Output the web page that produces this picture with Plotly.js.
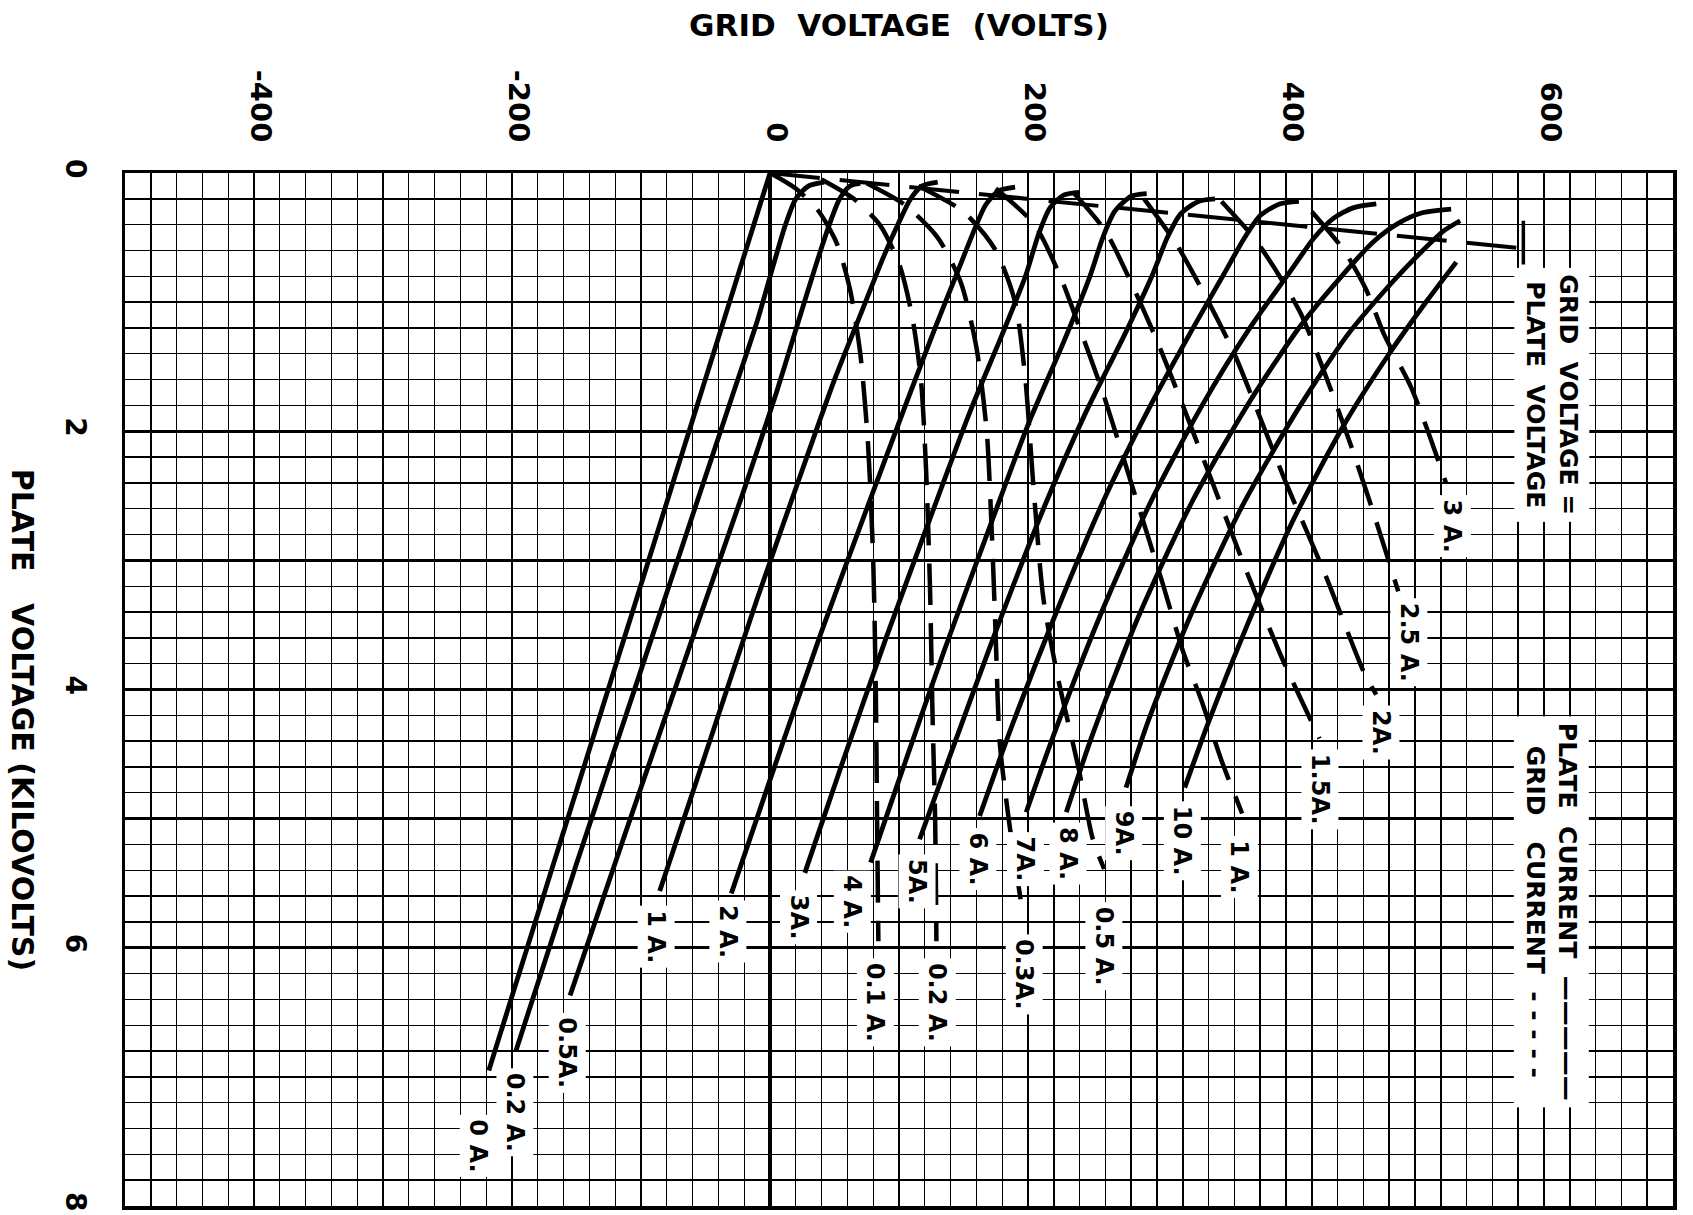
<!DOCTYPE html>
<html><head><meta charset="utf-8">
<script src="https://cdn.plot.ly/plotly-3.0.1.min.js"></script>
<style>html,body{margin:0;padding:0;background:#fff}#chart{width:1693px;height:1215px}</style>
</head><body><div id="chart"></div>
<script>
// ---- axis ticks ----
const xTickVals = [-500,-400,-300,-200,-100,0,100,200,300,400,500,600,700];
const xTickText = ['','-400','','-200','','0','','200','','400','','600',''];
const yTickVals = [0,1,2,3,4,5,6,7,8];
const yTickText = ['0','','2','','4','','6','','8'];

// ---- plate current curves (solid): grid volts (x), plate kilovolts (y) ----
const pc_0A_x   = [-218, 0];
const pc_0A_y   = [6.95, 0];
const pc_02A_x  = [-197,-150,-100,-60,-30,-10,3,12,20,30,42];
const pc_02A_y  = [6.8,5.35,3.85,2.65,1.75,1.15,0.7,0.4,0.2,0.1,0.07];
const pc_05A_x  = [-155,-110,-60,-20,5,22,36,46,54,62,70];
const pc_05A_y  = [6.37,5.05,3.6,2.45,1.7,1.15,0.7,0.4,0.2,0.1,0.08];
const pc_1A_x   = [-85.5,-50,-10,25,50,72,88,100,109,118,130];
const pc_1A_y   = [5.56,4.5,3.3,2.3,1.6,1.05,0.65,0.38,0.2,0.1,0.07];
const pc_2A_x   = [-30,0,40,75,105,128,146,158,167,177,190];
const pc_2A_y   = [5.58,4.7,3.55,2.6,1.8,1.2,0.75,0.45,0.25,0.14,0.11];
const pc_3A_x   = [27,55,90,125,155,180,198,208,217,228,240];
const pc_3A_y   = [5.42,4.6,3.6,2.65,1.85,1.25,0.8,0.48,0.27,0.17,0.15];
const pc_4A_x   = [78,100,135,170,200,228,248,258,267,280,292];
const pc_4A_y   = [5.34,4.7,3.7,2.75,1.95,1.3,0.8,0.5,0.3,0.18,0.16];
const pc_5A_x   = [116,140,175,212,245,275,296,308,318,332,345];
const pc_5A_y   = [5.16,4.5,3.55,2.6,1.85,1.25,0.8,0.5,0.32,0.22,0.2];
const pc_6A_x   = [162.5,185,220,258,295,328,352,368,380,395,410];
const pc_6A_y   = [4.98,4.35,3.45,2.55,1.8,1.2,0.78,0.5,0.33,0.24,0.22];
const pc_7A_x   = [198.6,220,255,295,335,372,402,422,437,452,470];
const pc_7A_y   = [4.95,4.35,3.45,2.55,1.8,1.2,0.78,0.5,0.35,0.27,0.24];
const pc_8A_x   = [229.7,250,285,327,370,410,443,468,487,505,528];
const pc_8A_y   = [4.95,4.35,3.45,2.55,1.8,1.2,0.8,0.53,0.39,0.31,0.28];
const pc_9A_x   = [276,293,325,365,408,448,482,506,522,535];
const pc_9A_y   = [4.76,4.25,3.45,2.6,1.85,1.25,0.85,0.6,0.45,0.37];
const pc_10A_x  = [321.5,340,370,405,445,480,510,532];
const pc_10A_y  = [4.76,4.25,3.5,2.7,1.95,1.4,0.98,0.69];

// ---- grid current curves (dashed) ----
const gc_01A_x = [0,20,38,52,62,70,76,80,82,83,84];
const gc_01A_y = [0,0.12,0.3,0.55,0.9,1.4,2.1,3.0,4.0,5.0,5.95];
const gc_02A_x = [40,65,85,100,110,117,121,124,126,128,129];
const gc_02A_y = [0.05,0.2,0.4,0.7,1.1,1.6,2.3,3.2,4.2,5.0,5.95];
const gc_03A_x = [75,105,130,148,160,168,172,175,178,185,196];
const gc_03A_y = [0.08,0.25,0.5,0.85,1.35,2.0,2.8,3.6,4.4,5.0,5.74];
const gc_05A_x = [115,150,175,190,198,204,212,223,239,250,259];
const gc_05A_y = [0.1,0.3,0.6,1.0,1.6,2.4,3.3,3.9,4.6,5.15,5.39];
const gc_1A_x  = [175,205,225,240,258,280,305,320,335,350,366];
const gc_1A_y  = [0.12,0.4,0.8,1.2,1.7,2.4,3.2,3.7,4.1,4.55,4.96];
const gc_15A_x = [235,260,280,300,320,345,370,397,426];
const gc_15A_y = [0.15,0.45,0.85,1.3,1.8,2.45,3.1,3.76,4.38];
const gc_2A_x  = [290,315,340,360,377,400,430,461,470];
const gc_2A_y  = [0.2,0.55,1.0,1.4,1.82,2.4,3.1,3.88,4.04];
const gc_25A_x = [350,375,395,412,430,450,470,487];
const gc_25A_y = [0.22,0.5,0.8,1.1,1.55,2.1,2.7,3.24];
const gc_3A_x  = [420,445,462,476,497,510,524];
const gc_3A_y  = [0.3,0.6,0.9,1.25,1.66,2.0,2.4];

// ---- grid voltage = plate voltage line ----
const gvpv_x = [0, 590];
const gvpv_y = [0, 0.59];

// ---- curve labels (text, label position) ----
const pcLabels = ['0 A.','0.2 A.','0.5A.','1 A.','2 A.','3A.','4 A.','5A.','6 A.','7A.','8 A.','9A.','10 A.'];
const pcLabelX = [-226,-198,-157,-88,-33,22,64,114,161,198,231,274,320];
const pcLabelY = [7.29,6.93,6.5,5.67,5.63,5.55,5.4,5.27,5.07,5.1,5.03,4.9,4.86];
const gcLabels = ['0.1 A.','0.2 A.','0.3A.','0.5 A.','1 A.','1.5A.','2A.','2.5 A.','3 A.'];
const gcLabelX = [82,130,197,259,364,426,474,495,529];
const gcLabelY = [6.08,6.08,5.89,5.64,5.13,4.46,4.12,3.29,2.49];

const FONT = 'DejaVu Sans';
const solidStyle = {color:'#000', width:4.8, shape:'spline', smoothing:0.7};
const dashStyle  = {color:'#000', width:4.5, shape:'spline', smoothing:0.7, dash:'42px,18px'};

const solids = [
  [pc_0A_x,pc_0A_y],[pc_02A_x,pc_02A_y],[pc_05A_x,pc_05A_y],[pc_1A_x,pc_1A_y],
  [pc_2A_x,pc_2A_y],[pc_3A_x,pc_3A_y],[pc_4A_x,pc_4A_y],[pc_5A_x,pc_5A_y],
  [pc_6A_x,pc_6A_y],[pc_7A_x,pc_7A_y],[pc_8A_x,pc_8A_y],[pc_9A_x,pc_9A_y],[pc_10A_x,pc_10A_y]
];
const dashes = [
  [gc_01A_x,gc_01A_y],[gc_02A_x,gc_02A_y],[gc_03A_x,gc_03A_y],[gc_05A_x,gc_05A_y],
  [gc_1A_x,gc_1A_y],[gc_15A_x,gc_15A_y],[gc_2A_x,gc_2A_y],[gc_25A_x,gc_25A_y],[gc_3A_x,gc_3A_y]
];

const traces = [];
solids.forEach((c,i)=>traces.push({x:c[0],y:c[1],type:'scatter',mode:'lines',line:solidStyle,name:pcLabels[i],hoverinfo:'skip'}));
dashes.forEach((c,i)=>traces.push({x:c[0],y:c[1],type:'scatter',mode:'lines',line:dashStyle,name:gcLabels[i],hoverinfo:'skip'}));
traces.push({x:gvpv_x,y:gvpv_y,type:'scatter',mode:'lines',line:{color:'#000',width:4,dash:'50px,20px'},name:'Eg=Ep',hoverinfo:'skip'});

const annotations = [];
function lab(text,x,y){
  annotations.push({text:text,x:x,y:y,xref:'x',yref:'y',showarrow:false,textangle:90,
    xanchor:'center',yanchor:'top',bgcolor:'#fff',borderpad:4,
    font:{family:FONT,size:24,color:'#000',weight:700}});
}
pcLabels.forEach((t,i)=>lab(t,pcLabelX[i],pcLabelY[i]));
gcLabels.forEach((t,i)=>lab(t,gcLabelX[i],gcLabelY[i]));

// leader from Eg=Ep line end down to its legend label
annotations.push({text:'',x:584,y:0.37,ax:584,ay:0.72,xref:'x',yref:'y',axref:'x',ayref:'y',
  showarrow:true,arrowhead:0,arrowwidth:3.5,arrowcolor:'#000'});
// legend texts
annotations.push({text:'GRID  VOLTAGE =<br>PLATE  VOLTAGE',x:606,y:1.72,xref:'x',yref:'y',showarrow:false,
  textangle:90,xanchor:'center',yanchor:'middle',bgcolor:'#fff',borderpad:6,
  font:{family:FONT,size:25,color:'#000',weight:700}});
annotations.push({text:'PLATE  CURRENT  —————<br>GRID   CURRENT  - - - - -',x:606,y:5.72,xref:'x',yref:'y',showarrow:false,
  textangle:90,xanchor:'center',yanchor:'middle',bgcolor:'#fff',borderpad:6,
  font:{family:FONT,size:25,color:'#000',weight:700}});
// y axis title (reads top to bottom)
annotations.push({text:'PLATE   VOLTAGE (KILOVOLTS)',x:-0.066,y:0.47,xref:'paper',yref:'paper',showarrow:false,
  textangle:90,xanchor:'center',yanchor:'middle',font:{family:FONT,size:30,color:'#000',weight:700}});

const layout = {
  width:1693,height:1215,
  margin:{l:125,r:20,t:173,b:9,pad:0},
  paper_bgcolor:'#fff',plot_bgcolor:'#fff',
  showlegend:false,
  title:{text:'GRID  VOLTAGE  (VOLTS)',x:0.531,xanchor:'center',y:0.979,yanchor:'middle',
    font:{family:FONT,size:31,color:'#000',weight:700}},
  xaxis:{range:[-500,700],side:'top',tickvals:xTickVals,ticktext:xTickText,tickangle:90,
    ticks:'',ticklabelstandoff:17,ticklabelshift:6,tickfont:{family:FONT,size:29,color:'#000',weight:700},
    showgrid:true,gridcolor:'#000',gridwidth:2.6,
    minor:{tick0:-500,dtick:20,showgrid:true,gridcolor:'#000',gridwidth:1.4,ticks:''},
    zeroline:true,zerolinecolor:'#000',zerolinewidth:4.5,
    showline:true,mirror:true,linecolor:'#000',linewidth:3.5,fixedrange:true},
  yaxis:{range:[8,0],tickvals:yTickVals,ticktext:yTickText,tickangle:90,
    ticks:'',ticklabelstandoff:22,tickfont:{family:FONT,size:28,color:'#000',weight:700},
    showgrid:true,gridcolor:'#000',gridwidth:2.6,
    minor:{tick0:0,dtick:0.2,showgrid:true,gridcolor:'#000',gridwidth:1.4,ticks:''},
    zeroline:false,showline:true,mirror:true,linecolor:'#000',linewidth:3.5,fixedrange:true},
  annotations:annotations
};
Plotly.newPlot('chart',traces,layout,{staticPlot:true,displayModeBar:false});
</script></body></html>
